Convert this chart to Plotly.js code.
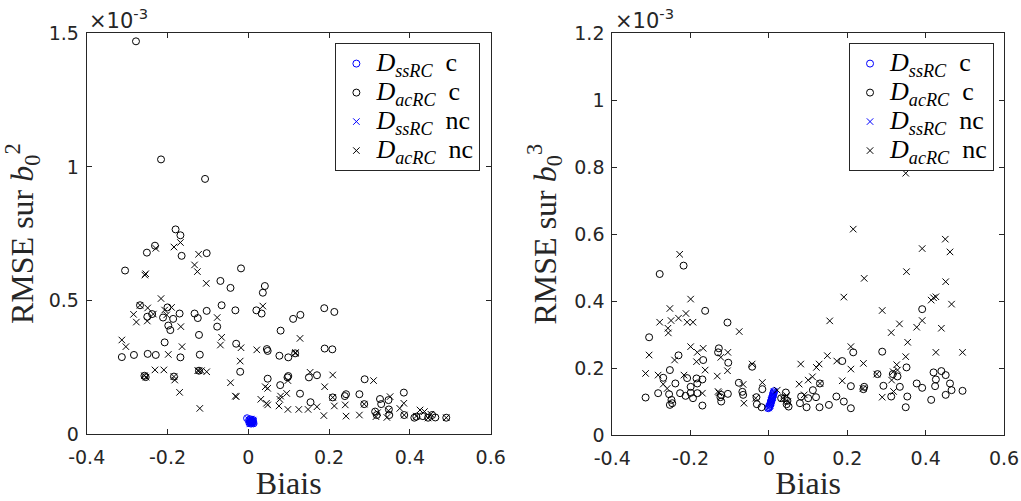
<!DOCTYPE html>
<html>
<head>
<meta charset="utf-8">
<script src="https://cdn.plot.ly/plotly-3.0.1.min.js"></script>
<style>html,body{margin:0;padding:0;background:#fff}#chart{width:1021px;height:501px}</style>
</head>
<body>
<div id="chart"></div>
<script>
// ---------- data (RMSE values in units of 1e-3) ----------
var xTickVals = [-0.4, -0.2, 0, 0.2, 0.4, 0.6];
var xTickText = ["-0.4", "-0.2", "0", "0.2", "0.4", "0.6"];
var legendNames = ["<i>D</i><sub><i>ssRC</i></sub>  c", "<i>D</i><sub><i>acRC</i></sub>  c",
                   "<i>D</i><sub><i>ssRC</i></sub>  nc", "<i>D</i><sub><i>acRC</i></sub>  nc"];

// Left panel : RMSE sur b0^2
var leftSsC_x = [-0.003, 0.002, 0.004, 0.006, 0.008, 0.010, 0.012, 0.003, 0.007, 0.011, 0.005, 0.009, 0.013];
var leftSsC_y = [0.059, 0.052, 0.048, 0.045, 0.050, 0.043, 0.047, 0.041, 0.039, 0.053, 0.055, 0.044, 0.040];
var leftSsNc_x = [0.001, 0.003, 0.005, 0.007, 0.009, 0.011, 0.013, 0.004, 0.008, 0.012, 0.006, 0.010];
var leftSsNc_y = [0.054, 0.049, 0.046, 0.042, 0.051, 0.044, 0.048, 0.038, 0.040, 0.052, 0.056, 0.041];

var leftAcC_x = [-0.278, -0.216, -0.107, -0.180, -0.168, -0.231, -0.251, -0.165, -0.103, -0.305, -0.018, -0.069, -0.044, 0.041, 0.036,
  -0.268, -0.200, -0.066, -0.103, -0.032, 0.020, 0.033, 0.188, 0.213, 0.129, 0.111, -0.250, -0.238, -0.211, -0.170,
  -0.133, -0.125, -0.186, -0.198, -0.193, -0.077, 0.080, -0.122, -0.207, -0.030, 0.046, 0.048, 0.189, 0.208, -0.313,
  -0.283, -0.249, -0.229, -0.168, -0.120, 0.077, 0.099, 0.116, -0.257, -0.254, -0.184, -0.122, -0.020, 0.048, 0.079,
  0.097, 0.099, 0.150, 0.170, 0.128, 0.154, 0.209, 0.242, 0.239, 0.275, 0.288, 0.287, 0.326, 0.329, 0.314,
  0.318, 0.347, 0.348, 0.349, 0.385, 0.386, 0.411, 0.416, 0.432, 0.445, 0.455, 0.463, 0.490];
var leftAcC_y = [1.470, 1.028, 0.955, 0.766, 0.744, 0.705, 0.679, 0.667, 0.677, 0.612, 0.620, 0.573, 0.547, 0.554, 0.529,
  0.482, 0.474, 0.482, 0.461, 0.463, 0.463, 0.451, 0.471, 0.457, 0.446, 0.431, 0.439, 0.449, 0.436, 0.451,
  0.451, 0.434, 0.431, 0.406, 0.389, 0.402, 0.387, 0.371, 0.343, 0.338, 0.318, 0.311, 0.320, 0.317, 0.288,
  0.296, 0.300, 0.296, 0.287, 0.297, 0.293, 0.287, 0.302, 0.218, 0.213, 0.215, 0.237, 0.233, 0.207, 0.183,
  0.212, 0.217, 0.212, 0.220, 0.151, 0.119, 0.137, 0.149, 0.142, 0.149, 0.205, 0.112, 0.131, 0.112, 0.084,
  0.071, 0.127, 0.092, 0.071, 0.155, 0.071, 0.061, 0.065, 0.067, 0.061, 0.071, 0.062, 0.061];

var leftAcNc_x = [-0.256, -0.254, -0.184, -0.168, -0.229, -0.123, -0.133, -0.126, -0.104, -0.216, -0.249, -0.284, -0.277, -0.250, -0.235,
  -0.207, -0.190, -0.202, -0.167, -0.077, -0.066, -0.069, -0.164, -0.313, -0.303, -0.198, -0.018, 0.021, -0.020, 0.036,
  0.128, 0.117, -0.268, -0.231, -0.209, -0.253, -0.182, -0.170, -0.125, -0.116, -0.103, -0.120, -0.044, -0.032, -0.030,
  0.031, 0.042, 0.048, 0.045, 0.048, 0.078, 0.080, 0.076, 0.098, 0.095, 0.098, 0.125, 0.148, 0.153, 0.170,
  0.187, 0.189, 0.209, 0.213, 0.240, 0.242, 0.275, 0.287, 0.310, 0.209, 0.316, 0.320, 0.343, 0.347, 0.351,
  0.375, 0.385, 0.416, 0.425, 0.436, 0.445, 0.452, 0.490, -0.257, -0.184, -0.122, 0.116, 0.386];
var leftAcNc_y = [0.595, 0.600, 0.700, 0.717, 0.695, 0.673, 0.633, 0.608, 0.564, 0.507, 0.472, 0.448, 0.419, 0.423, 0.449,
  0.464, 0.474, 0.446, 0.402, 0.436, 0.362, 0.333, 0.327, 0.352, 0.327, 0.298, 0.323, 0.315, 0.273, 0.479,
  0.358, 0.305, 0.482, 0.240, 0.240, 0.213, 0.202, 0.156, 0.237, 0.237, 0.233, 0.096, 0.192, 0.142, 0.140,
  0.130, 0.177, 0.171, 0.115, 0.109, 0.130, 0.142, 0.105, 0.092, 0.152, 0.200, 0.092, 0.092, 0.231, 0.102,
  0.069, 0.177, 0.221, 0.105, 0.109, 0.067, 0.071, 0.112, 0.200, 0.137, 0.065, 0.080, 0.062, 0.087, 0.140,
  0.096, 0.115, 0.067, 0.090, 0.084, 0.060, 0.074, 0.061, 0.218, 0.215, 0.237, 0.302, 0.071];

// Right panel : RMSE sur b0^3
var rightSsC_x = [-0.002, 0.000, 0.002, 0.003, 0.004, 0.005, 0.006, 0.007, 0.008, 0.009, 0.010, 0.011, 0.012, 0.013];
var rightSsC_y = [0.080, 0.083, 0.087, 0.091, 0.095, 0.099, 0.103, 0.107, 0.111, 0.115, 0.119, 0.123, 0.127, 0.131];
var rightSsNc_x = [-0.001, 0.001, 0.003, 0.004, 0.005, 0.006, 0.008, 0.009, 0.010, 0.011, 0.012, 0.013];
var rightSsNc_y = [0.081, 0.085, 0.089, 0.094, 0.098, 0.102, 0.108, 0.112, 0.117, 0.121, 0.125, 0.129];

var rightAcC_x = [-0.279, -0.218, -0.163, -0.106, -0.306, -0.231, -0.253, -0.168, -0.128, -0.130, -0.104, -0.270, -0.239, -0.209, -0.185,
  -0.170, -0.183, -0.200, -0.200, -0.315, -0.283, -0.255, -0.227, -0.213, -0.194, -0.183, -0.249, -0.253, -0.247, -0.170,
  -0.122, -0.124, -0.122, -0.105, -0.077, -0.068, -0.066, -0.043, -0.032, -0.031, -0.019, -0.017, 0.043, 0.040, 0.047,
  0.050, 0.045, 0.031, 0.079, 0.082, 0.096, 0.100, 0.112, 0.120, 0.130, 0.129, 0.153, 0.172, 0.191, 0.187,
  0.215, 0.209, 0.209, 0.243, 0.241, 0.277, 0.289, 0.292, 0.312, 0.316, 0.328, 0.334, 0.351, 0.353, 0.349,
  0.377, 0.391, 0.391, 0.414, 0.420, 0.426, 0.424, 0.440, 0.451, 0.451, 0.462, 0.466, 0.494];
var rightAcC_y = [0.481, 0.506, 0.371, 0.336, 0.292, 0.238, 0.194, 0.224, 0.259, 0.247, 0.216, 0.171, 0.154, 0.170, 0.169,
  0.166, 0.154, 0.144, 0.126, 0.112, 0.125, 0.122, 0.125, 0.117, 0.110, 0.125, 0.105, 0.090, 0.095, 0.088,
  0.120, 0.113, 0.100, 0.123, 0.156, 0.129, 0.120, 0.204, 0.113, 0.092, 0.083, 0.137, 0.127, 0.110, 0.102,
  0.085, 0.092, 0.110, 0.095, 0.115, 0.083, 0.110, 0.134, 0.113, 0.154, 0.083, 0.090, 0.115, 0.100, 0.221,
  0.247, 0.146, 0.080, 0.144, 0.137, 0.182, 0.249, 0.147, 0.115, 0.182, 0.175, 0.144, 0.202, 0.115, 0.083,
  0.154, 0.141, 0.376, 0.105, 0.187, 0.166, 0.146, 0.191, 0.179, 0.120, 0.154, 0.134, 0.132];

var rightAcNc_x = [0.349, 0.215, 0.450, 0.462, 0.391, 0.351, 0.243, 0.451, 0.191, 0.414, 0.420, 0.426, 0.466, 0.289, 0.391,
  0.333, 0.377, 0.440, 0.312, 0.155, 0.354, 0.209, 0.426, 0.494, 0.349, 0.149, 0.173, 0.241, 0.209, 0.128,
  0.121, 0.111, 0.100, 0.081, 0.077, 0.187, 0.328, 0.317, 0.313, 0.289, 0.240, 0.275, 0.130, -0.017, 0.021,
  -0.043, -0.064, -0.066, -0.076, -0.105, -0.106, -0.123, -0.132, -0.128, -0.168, -0.163, -0.170, -0.183, -0.185, -0.200,
  -0.209, -0.194, -0.212, -0.200, -0.217, -0.228, -0.231, -0.241, -0.253, -0.250, -0.258, -0.257, -0.279, -0.283, -0.270,
  -0.260, -0.306, -0.315, 0.035, 0.045, 0.048, 0.090, 0.318, 0.326, -0.034, -0.130];
var rightAcNc_y = [0.782, 0.615, 0.585, 0.547, 0.557, 0.488, 0.468, 0.458, 0.412, 0.403, 0.410, 0.413, 0.391, 0.372, 0.342,
  0.332, 0.322, 0.319, 0.306, 0.341, 0.277, 0.264, 0.247, 0.247, 0.234, 0.237, 0.221, 0.214, 0.197, 0.212,
  0.202, 0.174, 0.164, 0.212, 0.152, 0.162, 0.194, 0.189, 0.164, 0.113, 0.139, 0.182, 0.154, 0.157, 0.134,
  0.212, 0.095, 0.151, 0.309, 0.247, 0.192, 0.232, 0.176, 0.126, 0.259, 0.194, 0.125, 0.247, 0.219, 0.406,
  0.337, 0.337, 0.363, 0.264, 0.179, 0.540, 0.349, 0.224, 0.378, 0.342, 0.319, 0.305, 0.337, 0.179, 0.152,
  0.139, 0.239, 0.184, 0.110, 0.118, 0.100, 0.120, 0.130, 0.210, 0.110, 0.130];

// ---------- chart ----------
var BLUE = "#0000ff", BLACK = "#000000", AX = "#262626";
function legendLabel(s) { return '<span style="font-size:26px">' + s + '</span>'; }
function tr(x, y, name, color, symbol, xa, ya, leg) {
  return {x: x, y: y, name: legendLabel(name), type: "scatter", mode: "markers",
    xaxis: xa, yaxis: ya, legend: leg,
    marker: {symbol: symbol, size: symbol === "circle-open" ? 7 : 6.5, color: color, line: {color: color, width: 1}}};
}
var data = [
  tr(leftSsC_x, leftSsC_y, legendNames[0], BLUE, "circle-open", "x", "y", "legend"),
  tr(leftAcC_x, leftAcC_y, legendNames[1], BLACK, "circle-open", "x", "y", "legend"),
  tr(leftSsNc_x, leftSsNc_y, legendNames[2], BLUE, "x-thin-open", "x", "y", "legend"),
  tr(leftAcNc_x, leftAcNc_y, legendNames[3], BLACK, "x-thin-open", "x", "y", "legend"),
  tr(rightSsC_x, rightSsC_y, legendNames[0], BLUE, "circle-open", "x2", "y2", "legend2"),
  tr(rightAcC_x, rightAcC_y, legendNames[1], BLACK, "circle-open", "x2", "y2", "legend2"),
  tr(rightSsNc_x, rightSsNc_y, legendNames[2], BLUE, "x-thin-open", "x2", "y2", "legend2"),
  tr(rightAcNc_x, rightAcNc_y, legendNames[3], BLACK, "x-thin-open", "x2", "y2", "legend2")
];

var tickFont = {family: "DejaVu Sans", size: 19, color: AX};
var titleFont = {family: "Liberation Serif", size: 32, color: AX};
function xAxis(domain, anchor) {
  return {domain: domain, anchor: anchor, range: [-0.4, 0.6], tickvals: xTickVals, ticktext: xTickText,
    ticks: "inside", ticklen: 5, tickcolor: AX, tickwidth: 1, mirror: "ticks", showline: true, linecolor: AX, linewidth: 1,
    showgrid: false, zeroline: false, tickfont: tickFont, ticklabelstandoff: 6,
    title: {text: "Biais", font: titleFont, standoff: 2}};
}
function yAxis(domain, anchor, range, dtick, title) {
  return {domain: domain, anchor: anchor, range: range, dtick: dtick, tick0: 0,
    ticks: "inside", ticklen: 5, tickcolor: AX, tickwidth: 1, mirror: "ticks", showline: true, linecolor: AX, linewidth: 1,
    showgrid: false, zeroline: false, tickfont: tickFont, ticklabelstandoff: 3,
    title: {text: title, font: titleFont, standoff: 8}};
}
var legendStyle = function (x) {
  return {x: x, xanchor: "right", y: 0.914, yanchor: "top", bgcolor: "#ffffff", bordercolor: AX, borderwidth: 1,
    font: {family: "Liberation Serif", size: 20, color: "#000000"}, itemwidth: 30,
    entrywidth: 94, entrywidthmode: "pixels"};
};
var layout = {
  width: 1021, height: 501, margin: {l: 0, r: 0, t: 0, b: 0},
  paper_bgcolor: "#ffffff", plot_bgcolor: "#ffffff", showlegend: true,
  xaxis: xAxis([0.0849, 0.4806], "y"),
  yaxis: yAxis([0.1337, 0.9335], "x", [0, 1.5], 0.5, "RMSE sur <i>b</i><sub>0</sub><sup>2</sup>"),
  xaxis2: xAxis([0.5997, 0.9834], "y2"),
  yaxis2: yAxis([0.1317, 0.9335], "x2", [0, 1.2], 0.2, "RMSE sur <i>b</i><sub>0</sub><sup>3</sup>"),
  legend: legendStyle(0.4705),
  legend2: legendStyle(0.9736),
  annotations: [
    {text: "×10<sup>-3</sup>", xref: "paper", yref: "paper", x: 0.0855, y: 0.93, xanchor: "left", yanchor: "bottom",
     showarrow: false, font: {family: "DejaVu Sans", size: 21, color: AX}},
    {text: "×10<sup>-3</sup>", xref: "paper", yref: "paper", x: 0.6007, y: 0.93, xanchor: "left", yanchor: "bottom",
     showarrow: false, font: {family: "DejaVu Sans", size: 21, color: AX}}
  ]
};
Plotly.newPlot("chart", data, layout, {displayModeBar: false, staticPlot: true});
</script>
</body>
</html>
